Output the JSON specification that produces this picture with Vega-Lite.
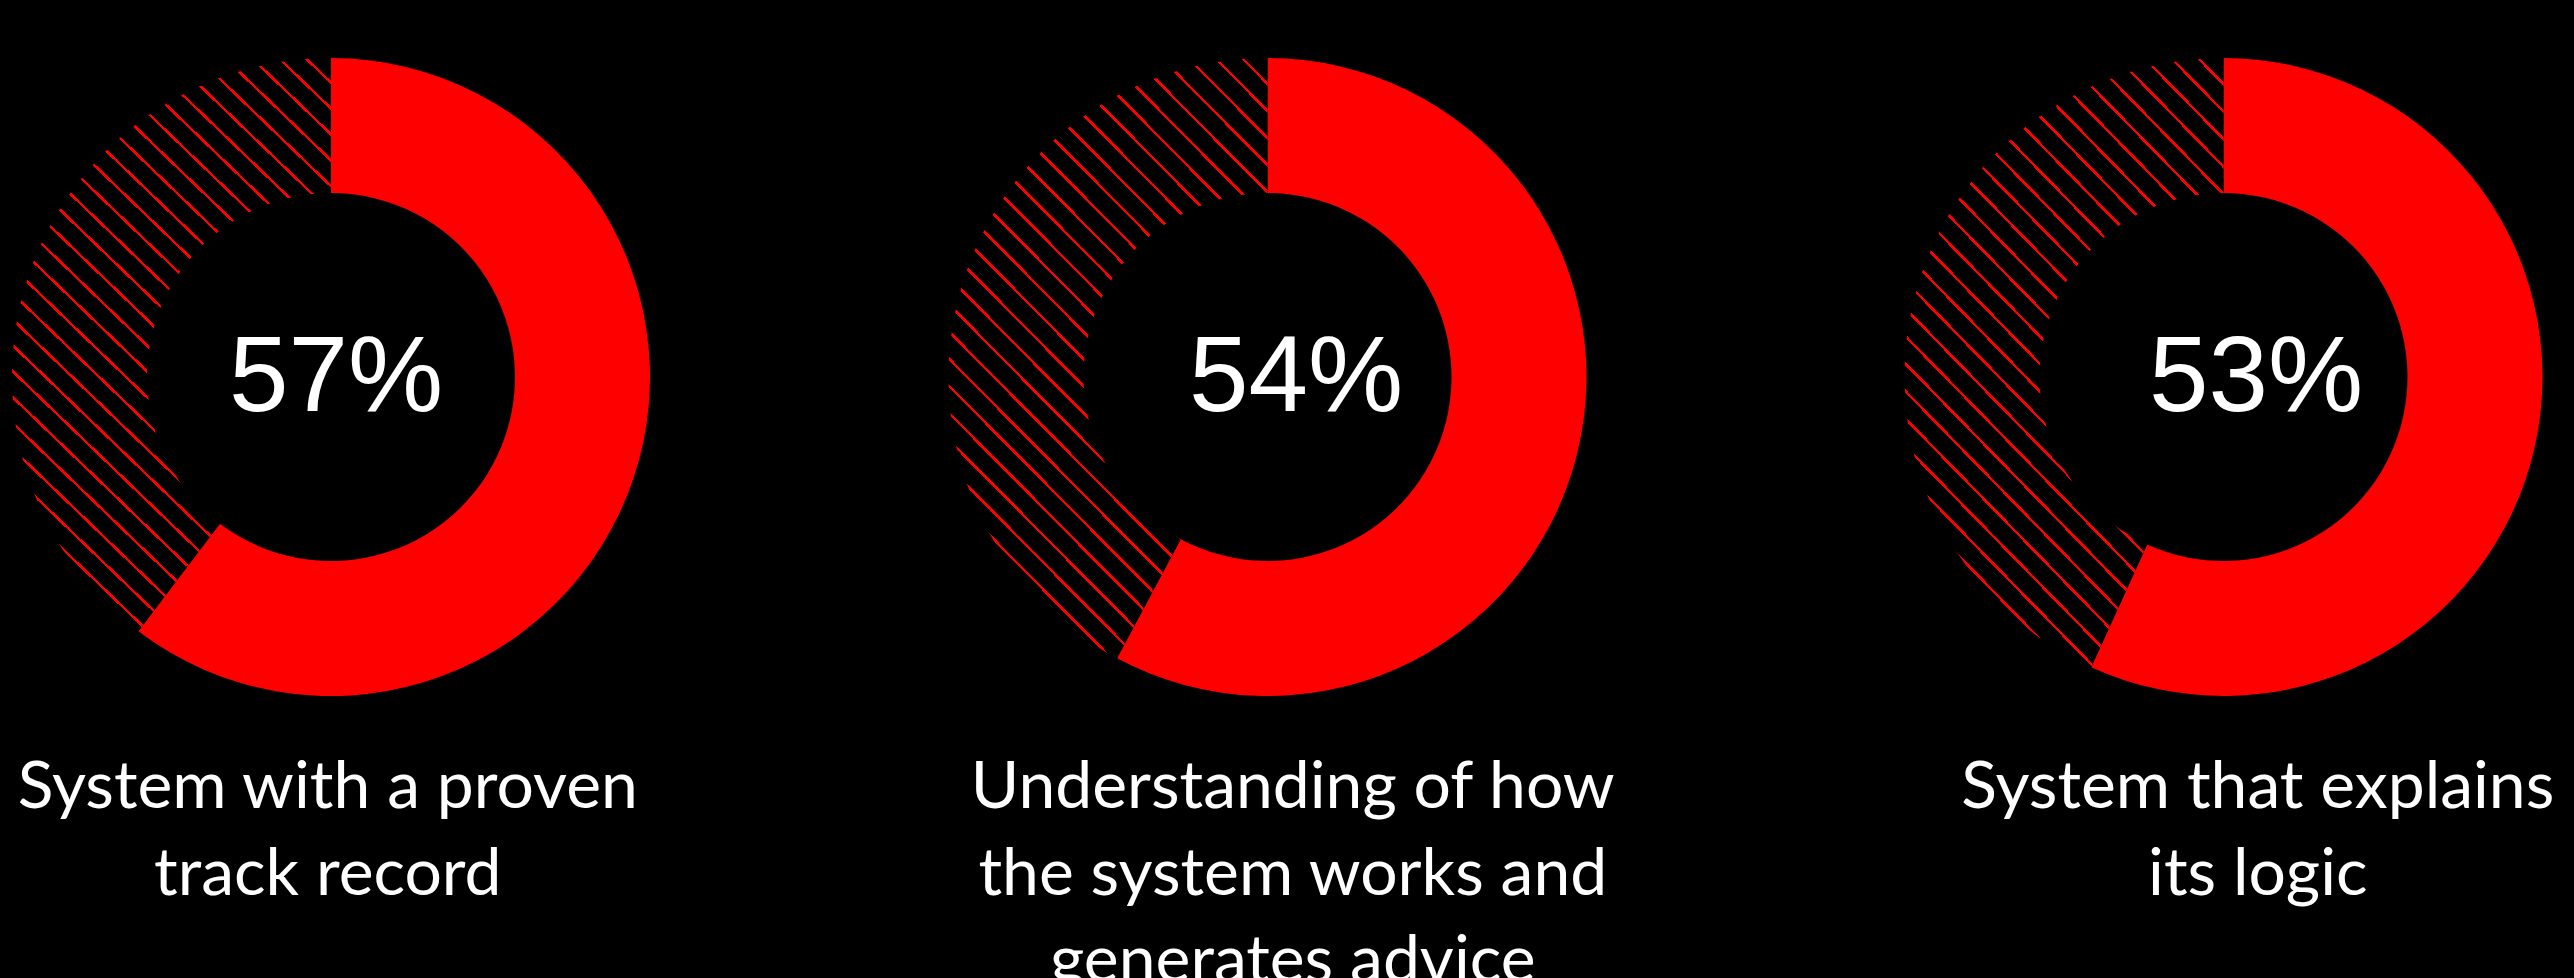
{
  "$schema": "https://vega.github.io/schema/vega-lite/v6.json",
  "background": "#000000",
  "padding": 0,
  "spacing": 0,
  "config": {"view": {"stroke": null}, "concat": {"spacing": 0}},
  "params": [
    {"name": "hatch", "value": {"gradient": "linear", "x1": 0, "y1": 1, "x2": 0.64, "y2": -0.193, "stops": [
      {"offset": 0, "color": "red"}, {"offset": 0.0039, "color": "red"}, {"offset": 0.0039, "color": "black"}, {"offset": 0.0294, "color": "black"},
      {"offset": 0.0294, "color": "red"}, {"offset": 0.0333, "color": "red"}, {"offset": 0.0333, "color": "black"}, {"offset": 0.0588, "color": "black"},
      {"offset": 0.0588, "color": "red"}, {"offset": 0.0627, "color": "red"}, {"offset": 0.0627, "color": "black"}, {"offset": 0.0882, "color": "black"},
      {"offset": 0.0882, "color": "red"}, {"offset": 0.0921, "color": "red"}, {"offset": 0.0921, "color": "black"}, {"offset": 0.1176, "color": "black"},
      {"offset": 0.1176, "color": "red"}, {"offset": 0.1215, "color": "red"}, {"offset": 0.1215, "color": "black"}, {"offset": 0.147, "color": "black"},
      {"offset": 0.147, "color": "red"}, {"offset": 0.1509, "color": "red"}, {"offset": 0.1509, "color": "black"}, {"offset": 0.1764, "color": "black"},
      {"offset": 0.1764, "color": "red"}, {"offset": 0.1803, "color": "red"}, {"offset": 0.1803, "color": "black"}, {"offset": 0.2058, "color": "black"},
      {"offset": 0.2058, "color": "red"}, {"offset": 0.2097, "color": "red"}, {"offset": 0.2097, "color": "black"}, {"offset": 0.2352, "color": "black"},
      {"offset": 0.2352, "color": "red"}, {"offset": 0.2391, "color": "red"}, {"offset": 0.2391, "color": "black"}, {"offset": 0.2646, "color": "black"},
      {"offset": 0.2646, "color": "red"}, {"offset": 0.2685, "color": "red"}, {"offset": 0.2685, "color": "black"}, {"offset": 0.294, "color": "black"},
      {"offset": 0.294, "color": "red"}, {"offset": 0.2979, "color": "red"}, {"offset": 0.2979, "color": "black"}, {"offset": 0.3234, "color": "black"},
      {"offset": 0.3234, "color": "red"}, {"offset": 0.3273, "color": "red"}, {"offset": 0.3273, "color": "black"}, {"offset": 0.3528, "color": "black"},
      {"offset": 0.3528, "color": "red"}, {"offset": 0.3567, "color": "red"}, {"offset": 0.3567, "color": "black"}, {"offset": 0.3822, "color": "black"},
      {"offset": 0.3822, "color": "red"}, {"offset": 0.3861, "color": "red"}, {"offset": 0.3861, "color": "black"}, {"offset": 0.4116, "color": "black"},
      {"offset": 0.4116, "color": "red"}, {"offset": 0.4155, "color": "red"}, {"offset": 0.4155, "color": "black"}, {"offset": 0.441, "color": "black"},
      {"offset": 0.441, "color": "red"}, {"offset": 0.4449, "color": "red"}, {"offset": 0.4449, "color": "black"}, {"offset": 0.4704, "color": "black"},
      {"offset": 0.4704, "color": "red"}, {"offset": 0.4743, "color": "red"}, {"offset": 0.4743, "color": "black"}, {"offset": 0.4998, "color": "black"},
      {"offset": 0.4998, "color": "red"}, {"offset": 0.5037, "color": "red"}, {"offset": 0.5037, "color": "black"}, {"offset": 0.5292, "color": "black"},
      {"offset": 0.5292, "color": "red"}, {"offset": 0.5331, "color": "red"}, {"offset": 0.5331, "color": "black"}, {"offset": 0.5586, "color": "black"},
      {"offset": 0.5586, "color": "red"}, {"offset": 0.5625, "color": "red"}, {"offset": 0.5625, "color": "black"}, {"offset": 0.588, "color": "black"},
      {"offset": 0.588, "color": "red"}, {"offset": 0.5919, "color": "red"}, {"offset": 0.5919, "color": "black"}, {"offset": 0.6174, "color": "black"},
      {"offset": 0.6174, "color": "red"}, {"offset": 0.6213, "color": "red"}, {"offset": 0.6213, "color": "black"}, {"offset": 0.6468, "color": "black"},
      {"offset": 0.6468, "color": "red"}, {"offset": 0.6507, "color": "red"}, {"offset": 0.6507, "color": "black"}, {"offset": 0.6762, "color": "black"},
      {"offset": 0.6762, "color": "red"}, {"offset": 0.6801, "color": "red"}, {"offset": 0.6801, "color": "black"}, {"offset": 0.7056, "color": "black"},
      {"offset": 0.7056, "color": "red"}, {"offset": 0.7095, "color": "red"}, {"offset": 0.7095, "color": "black"}, {"offset": 0.735, "color": "black"},
      {"offset": 0.735, "color": "red"}, {"offset": 0.7389, "color": "red"}, {"offset": 0.7389, "color": "black"}, {"offset": 0.7644, "color": "black"},
      {"offset": 0.7644, "color": "red"}, {"offset": 0.7683, "color": "red"}, {"offset": 0.7683, "color": "black"}, {"offset": 0.7938, "color": "black"},
      {"offset": 0.7938, "color": "red"}, {"offset": 0.7977, "color": "red"}, {"offset": 0.7977, "color": "black"}, {"offset": 0.8232, "color": "black"},
      {"offset": 0.8232, "color": "red"}, {"offset": 0.8271, "color": "red"}, {"offset": 0.8271, "color": "black"}, {"offset": 0.8526, "color": "black"},
      {"offset": 0.8526, "color": "red"}, {"offset": 0.8565, "color": "red"}, {"offset": 0.8565, "color": "black"}, {"offset": 0.882, "color": "black"},
      {"offset": 0.882, "color": "red"}, {"offset": 0.8859, "color": "red"}, {"offset": 0.8859, "color": "black"}, {"offset": 0.9114, "color": "black"},
      {"offset": 0.9114, "color": "red"}, {"offset": 0.9153, "color": "red"}, {"offset": 0.9153, "color": "black"}, {"offset": 0.9408, "color": "black"},
      {"offset": 0.9408, "color": "red"}, {"offset": 0.9447, "color": "red"}, {"offset": 0.9447, "color": "black"}, {"offset": 0.9702, "color": "black"},
      {"offset": 0.9702, "color": "red"}, {"offset": 0.9741, "color": "red"}, {"offset": 0.9741, "color": "black"}, {"offset": 1, "color": "black"}
    ]}}
  ],
  "data": {"values": [
    {"chart": "A", "part": "share", "value": 57, "pct": "57%", "label": "System with a proven\ntrack record"},
    {"chart": "A", "part": "rest", "value": 37.5, "pct": "", "label": ""},
    {"chart": "B", "part": "share", "value": 54, "pct": "54%", "label": "Understanding of how\nthe system works and\ngenerates advice"},
    {"chart": "B", "part": "rest", "value": 39.4, "pct": "", "label": ""},
    {"chart": "C", "part": "share", "value": 53, "pct": "53%", "label": "System that explains\nits logic"},
    {"chart": "C", "part": "rest", "value": 40.3, "pct": "", "label": ""}
  ]},
  "vconcat": [
    {
      "spacing": 0,
      "hconcat": [
        {
          "width": 662, "height": 754,
          "transform": [{"filter": "datum.chart === 'A'"}],
          "layer": [
            {
              "mark": {"type": "arc", "outerRadius": 319, "innerRadius": 184},
              "encoding": {
                "theta": {"field": "value", "type": "quantitative", "stack": true},
                "order": {"field": "part", "sort": "descending"},
                "fill": {"condition": {"test": "datum.part === 'rest'", "value": {"expr": "hatch"}}, "value": "#ff0000"}
              }
            },
            {
              "transform": [{"filter": "datum.part === 'share'"}],
              "mark": {"type": "text", "font": "Liberation Sans", "fontSize": 107, "color": "#ffffff", "align": "center", "baseline": "alphabetic", "dx": 5, "dy": 34},
              "encoding": {"text": {"field": "pct", "type": "nominal"}}
            }
          ]
        },
        {
          "width": 1211, "height": 754,
          "transform": [{"filter": "datum.chart === 'B'"}],
          "layer": [
            {
              "mark": {"type": "arc", "outerRadius": 319, "innerRadius": 184},
              "encoding": {
                "theta": {"field": "value", "type": "quantitative", "stack": true},
                "order": {"field": "part", "sort": "descending"},
                "fill": {"condition": {"test": "datum.part === 'rest'", "value": {"expr": "hatch"}}, "value": "#ff0000"}
              }
            },
            {
              "transform": [{"filter": "datum.part === 'share'"}],
              "mark": {"type": "text", "font": "Liberation Sans", "fontSize": 107, "color": "#ffffff", "align": "center", "baseline": "alphabetic", "dx": 28.5, "dy": 34},
              "encoding": {"text": {"field": "pct", "type": "nominal"}}
            }
          ]
        },
        {
          "width": 701, "height": 754,
          "transform": [{"filter": "datum.chart === 'C'"}],
          "layer": [
            {
              "mark": {"type": "arc", "outerRadius": 319, "innerRadius": 184},
              "encoding": {
                "theta": {"field": "value", "type": "quantitative", "stack": true},
                "order": {"field": "part", "sort": "descending"},
                "fill": {"condition": {"test": "datum.part === 'rest'", "value": {"expr": "hatch"}}, "value": "#ff0000"}
              }
            },
            {
              "transform": [{"filter": "datum.part === 'share'"}],
              "mark": {"type": "text", "font": "Liberation Sans", "fontSize": 107, "color": "#ffffff", "align": "center", "baseline": "alphabetic", "dx": 32.5, "dy": 34},
              "encoding": {"text": {"field": "pct", "type": "nominal"}}
            }
          ]
        }
      ]
    },
    {
      "width": 2574, "height": 224,
      "transform": [{"filter": "datum.part === 'share'"}],
      "mark": {"type": "text", "font": "Lato", "fontSize": 66, "color": "#ffffff", "align": "center", "baseline": "top", "lineBreak": "\n", "lineHeight": 87, "dy": -110, "clip": true},
      "encoding": {
        "x": {"field": "chart", "type": "nominal", "axis": null, "scale": {"type": "point", "padding": 0.3337, "align": 0.509}},
        "text": {"field": "label", "type": "nominal"}
      }
    }
  ]
}
